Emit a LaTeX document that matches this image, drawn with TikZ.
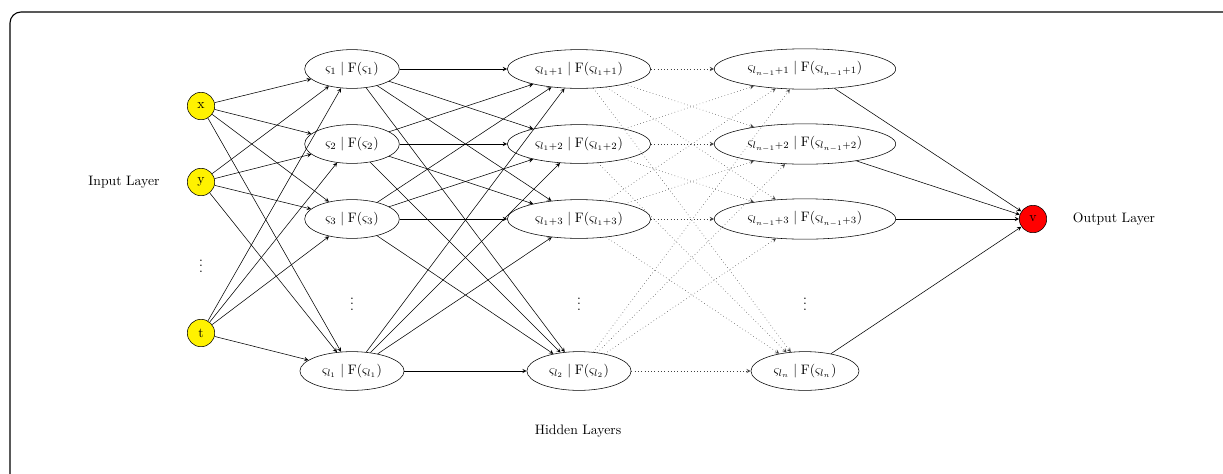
\documentclass[tikz,border=0pt]{standalone}
\usepackage{amsmath}
\usetikzlibrary{shapes.geometric}
\begin{document}
\begin{tikzpicture}[x=0.73pt, y=-0.73pt, line join=round, >=stealth,
		inp/.style={circle, draw, fill=yellow, minimum size=20pt, inner sep=0pt},
		outp/.style={circle, draw, fill=red, minimum size=20pt, inner sep=0pt},
		hid/.style={ellipse, draw, inner sep=5pt},
		link/.style={->},
		weak/.style={->, dotted, black!75}]
		\useasboundingbox (0,0) rectangle (1223,473);
		\draw[thick, rounded corners=8pt] (10,12) rectangle (1260,500);
		% input layer
		\node[inp] (x) at (201,106) {x};
		\node[inp] (y) at (201,182) {y};
		\node[inp] (t) at (201,333) {t};
		\node (din) at (201,262) {$\vdots$};
		\node (lin) at (124,182) {Input Layer};
		% hidden layers
		\node[hid] (a1) at (352,69) {$\varsigma_1 \mid \mathrm{F}(\varsigma_1)$};
		\node[hid] (a2) at (352,144) {$\varsigma_2 \mid \mathrm{F}(\varsigma_2)$};
		\node[hid] (a3) at (352,219) {$\varsigma_3 \mid \mathrm{F}(\varsigma_3)$};
		\node (da) at (352,300) {$\vdots$};
		\node[hid] (a4) at (352,371) {$\varsigma_{l_1} \mid \mathrm{F}(\varsigma_{l_1})$};
		\node[hid] (b1) at (579,69) {$\varsigma_{l_1+1} \mid \mathrm{F}(\varsigma_{l_1+1})$};
		\node[hid] (b2) at (579,144) {$\varsigma_{l_1+2} \mid \mathrm{F}(\varsigma_{l_1+2})$};
		\node[hid] (b3) at (579,219) {$\varsigma_{l_1+3} \mid \mathrm{F}(\varsigma_{l_1+3})$};
		\node (db) at (579,300) {$\vdots$};
		\node[hid] (b4) at (579,371) {$\varsigma_{l_2} \mid \mathrm{F}(\varsigma_{l_2})$};
		\node[hid] (c1) at (805,69) {$\varsigma_{l_{n-1}+1} \mid \mathrm{F}(\varsigma_{l_{n-1}+1})$};
		\node[hid] (c2) at (805,144) {$\varsigma_{l_{n-1}+2} \mid \mathrm{F}(\varsigma_{l_{n-1}+2})$};
		\node[hid] (c3) at (805,219) {$\varsigma_{l_{n-1}+3} \mid \mathrm{F}(\varsigma_{l_{n-1}+3})$};
		\node (dc) at (805,300) {$\vdots$};
		\node[hid] (c4) at (805,371) {$\varsigma_{l_n} \mid \mathrm{F}(\varsigma_{l_n})$};
		\node (lhid) at (578,431) {Hidden Layers};
		% output layer
		\node[outp] (v) at (1033,219) {v};
		\node (lout) at (1114,219) {Output Layer};
		% connections
		\foreach \i in {x,y,t} \foreach \j in {a1,a2,a3,a4} \draw[link] (\i) -- (\j);
		\foreach \i in {a1,a2,a3,a4} \foreach \j in {b1,b2,b3,b4} \draw[link] (\i) -- (\j);
		\foreach \i in {b1,b2,b3,b4} \foreach \j in {c1,c2,c3,c4} \draw[weak] (\i) -- (\j);
		\foreach \i in {c1,c2,c3,c4} \draw[link] (\i) -- (v);
\end{tikzpicture}
\end{document}
